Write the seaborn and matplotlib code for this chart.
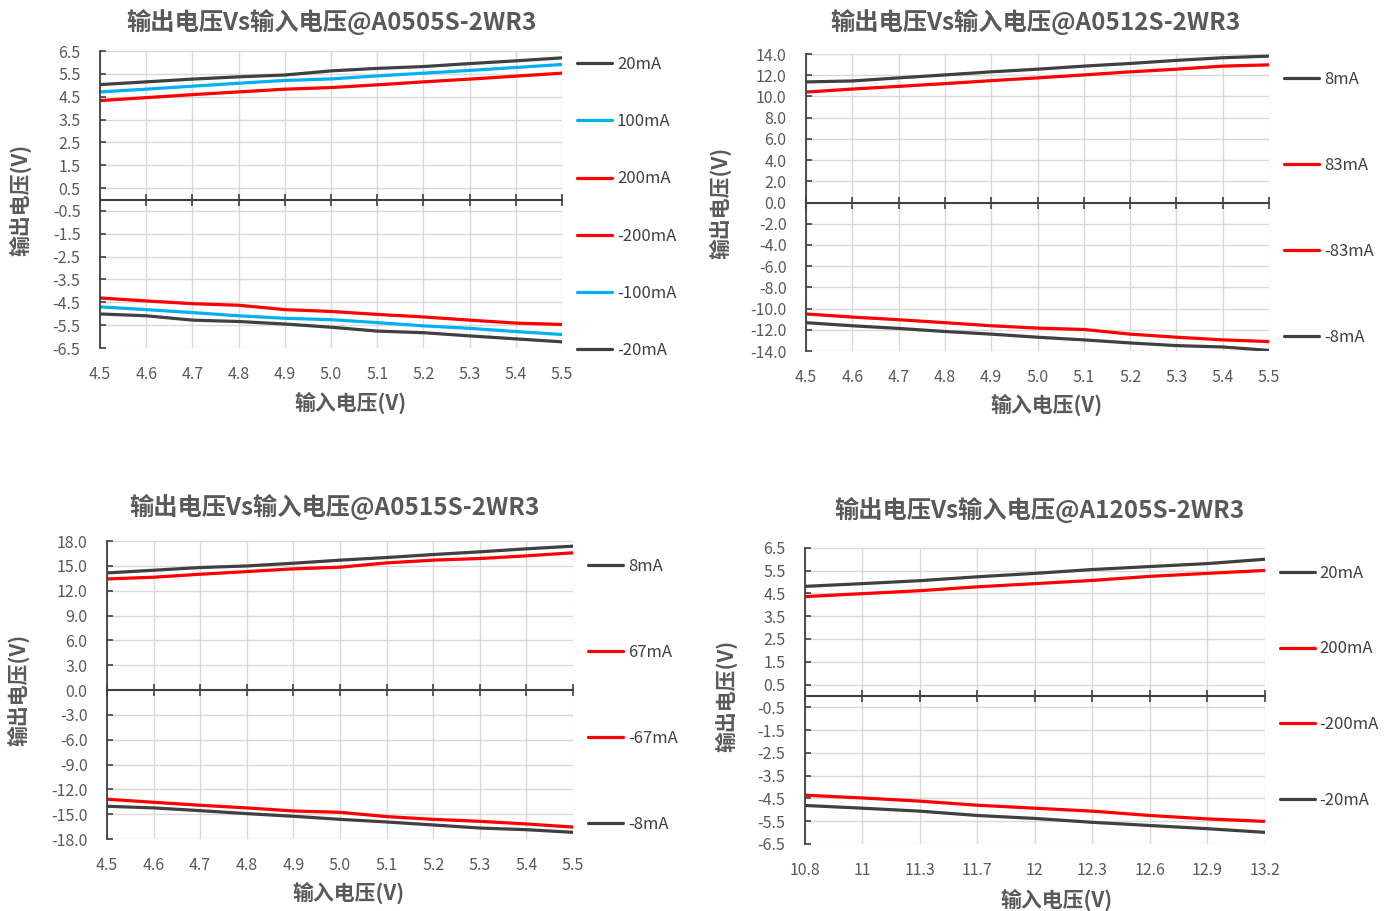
import numpy as np
import pandas as pd
import matplotlib
matplotlib.use("Agg")
import matplotlib.pyplot as plt
import seaborn as sns

sns.set_theme(style="white")
plt.rcParams['font.family'] = ['Noto Sans CJK SC', 'DejaVu Sans']
plt.rcParams['axes.unicode_minus'] = False

# ---- datos ----
vin_5v = [4.5, 4.6, 4.7, 4.8, 4.9, 5.0, 5.1, 5.2, 5.3, 5.4, 5.5]
vin_12v = ["10.8", "11", "11.3", "11.7", "12", "12.3", "12.6", "12.9", "13.2"]

# A0505S-2WR3
a0505_p20 = [5.03, 5.15, 5.27, 5.37, 5.45, 5.63, 5.74, 5.82, 5.95, 6.07, 6.20]
a0505_p100 = [4.71, 4.83, 4.96, 5.09, 5.21, 5.28, 5.41, 5.53, 5.65, 5.78, 5.91]
a0505_p200 = [4.33, 4.46, 4.59, 4.71, 4.83, 4.90, 5.02, 5.15, 5.27, 5.40, 5.53]
a0505_n200 = [-4.31, -4.44, -4.56, -4.63, -4.82, -4.90, -5.03, -5.14, -5.28, -5.41, -5.47]
a0505_n100 = [-4.70, -4.82, -4.95, -5.09, -5.20, -5.26, -5.39, -5.53, -5.64, -5.78, -5.91]
a0505_n20 = [-5.01, -5.09, -5.28, -5.34, -5.45, -5.59, -5.76, -5.83, -5.97, -6.10, -6.23]

# A0512S-2WR3
a0512_p8 = [11.37, 11.46, 11.75, 12.03, 12.32, 12.57, 12.86, 13.11, 13.40, 13.65, 13.80]
a0512_p83 = [10.41, 10.70, 10.95, 11.21, 11.49, 11.75, 12.03, 12.32, 12.57, 12.86, 12.98]
a0512_n83 = [-10.51, -10.80, -11.05, -11.33, -11.62, -11.84, -11.97, -12.41, -12.70, -12.95, -13.11]
a0512_n8 = [-11.33, -11.62, -11.87, -12.16, -12.41, -12.70, -12.95, -13.24, -13.49, -13.62, -13.94]

# A0515S-2WR3
a0515_p8 = [14.16, 14.48, 14.81, 15.00, 15.33, 15.70, 16.02, 16.38, 16.71, 17.07, 17.39]
a0515_p67 = [13.43, 13.64, 14.00, 14.32, 14.65, 14.85, 15.37, 15.70, 15.90, 16.22, 16.59]
a0515_n67 = [-13.19, -13.56, -13.92, -14.24, -14.61, -14.77, -15.29, -15.62, -15.86, -16.18, -16.55]
a0515_n8 = [-14.04, -14.24, -14.57, -14.93, -15.25, -15.62, -15.94, -16.30, -16.67, -16.87, -17.19]

# A1205S-2WR3
a1205_p20 = [4.81, 4.93, 5.06, 5.23, 5.38, 5.55, 5.68, 5.81, 6.00]
a1205_p200 = [4.36, 4.49, 4.62, 4.79, 4.93, 5.07, 5.25, 5.38, 5.51]
a1205_n200 = [-4.36, -4.48, -4.62, -4.80, -4.93, -5.06, -5.25, -5.40, -5.51]
a1205_n20 = [-4.81, -4.93, -5.06, -5.25, -5.38, -5.55, -5.69, -5.83, -5.99]

GRIS = "#404040"
ROJO = "#ff0000"
AZUL = "#00b0f0"
TXT = "#595959"

y_label = "输出电压(V)"
x_label = "输入电压(V)"


def panel(ax, x, xlabels, series, names, colors, yticks, yfmt, title,
          title_xy, xlab_xy, ylab_x, leg_y, leg_sp):
    rows = []
    for name, vals in zip(names, series):
        for xi, v in zip(x, vals):
            rows.append({"vin": xi, "vout": v, "carga": name})
    df = pd.DataFrame(rows)
    sns.lineplot(data=df, x="vin", y="vout", hue="carga", hue_order=names,
                 palette=dict(zip(names, colors)), linewidth=2.3, ax=ax,
                 sort=False)

    ax.set_xlim(x[0], x[-1])
    ax.set_ylim(yticks[0], yticks[-1])
    ax.set_yticks(yticks)
    ax.set_yticklabels([yfmt % t for t in yticks])
    ax.set_xticks(x)
    ax.grid(True, color="#d9d9d9", linewidth=1.0)

    for s in ["top", "right"]:
        ax.spines[s].set_visible(False)
    ax.spines["left"].set_color(GRIS)
    ax.spines["left"].set_linewidth(1.3)
    ax.spines["bottom"].set_position(("data", 0))
    ax.spines["bottom"].set_color(GRIS)
    ax.spines["bottom"].set_linewidth(1.5)
    ax.tick_params(axis="x", direction="inout", length=9, width=1.2,
                   color=GRIS, labelbottom=False, bottom=True)
    ax.tick_params(axis="y", direction="in", length=4, width=1.2,
                   color=GRIS, left=True, labelsize=11.5, labelcolor=TXT,
                   pad=14)

    # etiquetas del eje x abajo
    sec = ax.secondary_xaxis("bottom")
    sec.set_xticks(x)
    sec.set_xticklabels(xlabels)
    sec.spines["bottom"].set_visible(False)
    sec.tick_params(length=0, pad=13, labelsize=11.5, labelcolor=TXT)

    ax.set_xlabel(x_label, fontsize=15, fontweight="bold", color=TXT)
    ax.xaxis.set_label_coords(*xlab_xy)
    ax.xaxis.label.set_va("center")
    ax.set_ylabel(y_label, fontsize=15, fontweight="bold", color=TXT)
    ax.yaxis.set_label_coords(ylab_x, 0.5)
    ax.yaxis.label.set_va("center")

    ax.set_title(title, x=title_xy[0], y=title_xy[1], va="center", pad=0,
                 fontsize=17.5, fontweight="bold", color=TXT)

    h, l = ax.get_legend_handles_labels()
    ax.legend(h, l, loc="upper left", bbox_to_anchor=(1.032, leg_y),
              frameon=False, borderpad=0, borderaxespad=0,
              handlelength=2.1, handletextpad=0.3, labelspacing=leg_sp,
              fontsize=12, labelcolor=GRIS)


fig = plt.figure(figsize=(13.95, 9.11), dpi=100)
ax1 = fig.add_axes([0.0717, 0.618, 0.3312, 0.326])
ax2 = fig.add_axes([0.5778, 0.6147, 0.3319, 0.326])
ax3 = fig.add_axes([0.0767, 0.079, 0.334, 0.327])
ax4 = fig.add_axes([0.577, 0.0736, 0.3297, 0.325])

ticks_65 = list(np.arange(-6.5, 6.6, 1.0))

panel(ax1, vin_5v, ["%.1f" % v for v in vin_5v],
      [a0505_p20, a0505_p100, a0505_p200, a0505_n200, a0505_n100, a0505_n20],
      ["20mA", "100mA", "200mA", "-200mA", "-100mA", "-20mA"],
      [GRIS, AZUL, ROJO, ROJO, AZUL, GRIS],
      ticks_65, "%.1f", "输出电压Vs输入电压@A0505S-2WR3",
      (0.5, 1.098), (0.541, -0.185), -0.173, 0.983, 2.41)

panel(ax2, vin_5v, ["%.1f" % v for v in vin_5v],
      [a0512_p8, a0512_p83, a0512_n83, a0512_n8],
      ["8mA", "83mA", "-83mA", "-8mA"],
      [GRIS, ROJO, ROJO, GRIS],
      list(range(-14, 15, 2)), "%.1f", "输出电压Vs输入电压@A0512S-2WR3",
      (0.495, 1.108), (0.52, -0.18), -0.186, 0.943, 4.14)

panel(ax3, vin_5v, ["%.1f" % v for v in vin_5v],
      [a0515_p8, a0515_p67, a0515_n67, a0515_n8],
      ["8mA", "67mA", "-67mA", "-8mA"],
      [GRIS, ROJO, ROJO, GRIS],
      list(range(-18, 19, 3)), "%.1f", "输出电压Vs输入电压@A0515S-2WR3",
      (0.489, 1.114), (0.519, -0.18), -0.19, 0.943, 4.14)

pos12 = list(range(len(vin_12v)))
panel(ax4, pos12, vin_12v,
      [a1205_p20, a1205_p200, a1205_n200, a1205_n20],
      ["20mA", "200mA", "-200mA", "-20mA"],
      [GRIS, ROJO, ROJO, GRIS],
      ticks_65, "%.1f", "输出电压Vs输入电压@A1205S-2WR3",
      (0.51, 1.128), (0.546, -0.19), -0.17, 0.943, 3.52)

fig.savefig("out.png", dpi=100)
